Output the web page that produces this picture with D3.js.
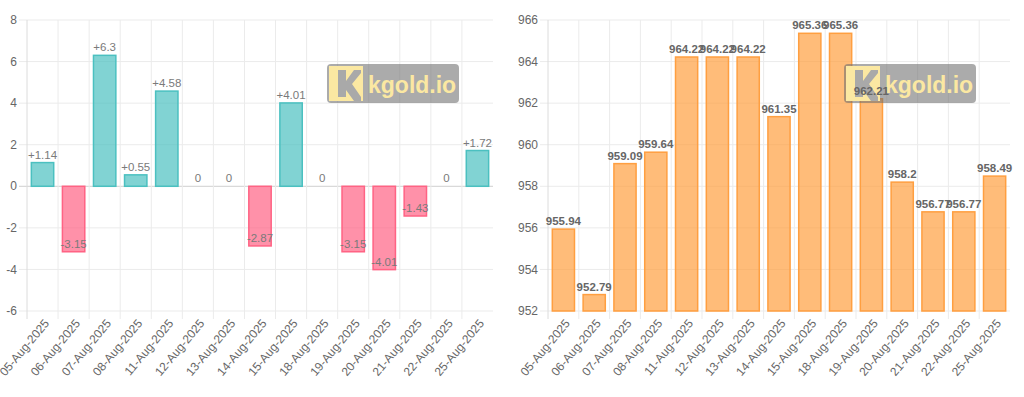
<!doctype html>
<html>
<head>
<meta charset="utf-8">
<title>Gold price change and price</title>
<style>
  body { margin: 0; background: #fff; }
  svg { display: block; font-family: "Liberation Sans", Arial, Helvetica, sans-serif; }
</style>
</head>
<body>
<div id="chart-area"></div>
<script src="https://cdn.jsdelivr.net/npm/d3@7/dist/d3.min.js"></script>
<script>
// Data
var dates = ["05-Aug-2025", "06-Aug-2025", "07-Aug-2025", "08-Aug-2025", "11-Aug-2025",
             "12-Aug-2025", "13-Aug-2025", "14-Aug-2025", "15-Aug-2025", "18-Aug-2025",
             "19-Aug-2025", "20-Aug-2025", "21-Aug-2025", "22-Aug-2025", "25-Aug-2025"];
var changes = [1.14, -3.15, 6.3, 0.55, 4.58, 0, 0, -2.87, 4.01, 0, -3.15, -4.01, -1.43, 0, 1.72];
var prices = [955.94, 952.79, 959.09, 959.64, 964.22, 964.22, 964.22, 961.35, 965.36, 965.36,
              962.21, 958.2, 956.77, 956.77, 958.49];
var changeTicks = [-6, -4, -2, 0, 2, 4, 6, 8];
var priceTicks = [952, 954, 956, 958, 960, 962, 964, 966];

var W = 1024, H = 397;
var svg = d3.select("#chart-area").append("svg").attr("width", W).attr("height", H);

function drawChart(opt) {
    var g = svg.append("g");
    var x = d3.scaleBand().domain(dates).range([opt.left, opt.right]).padding(0);
    var y = d3.scaleLinear().domain(opt.domain).range([311, 20]);
    var bw = x.bandwidth() * 0.72;
    var rows = opt.values.map(function(v, i){ return { date: dates[i], value: v }; });

    // horizontal grid
    g.selectAll(".hgrid").data(opt.ticks).enter().append("line")
        .attr("x1", opt.left - 8).attr("x2", opt.right)
        .attr("y1", function(d){ return y(d); }).attr("y2", function(d){ return y(d); })
        .attr("stroke", function(d){ return (opt.zero && d == 0) ? "#cfcfcf" : "#ebebeb"; })
        .attr("stroke-width", 1);

    // vertical grid (category boundaries)
    g.selectAll(".vgrid").data(dates).enter().append("line")
        .attr("x1", function(d){ return x(d); }).attr("x2", function(d){ return x(d); })
        .attr("y1", 20).attr("y2", 319)
        .attr("stroke", function(d, i){ return i == 0 ? "#dcdcdc" : "#ebebeb"; })
        .attr("stroke-width", 1);

    // y tick labels
    g.selectAll(".ylab").data(opt.ticks).enter().append("text")
        .attr("x", opt.left - 10).attr("y", function(d){ return y(d); })
        .attr("dy", "0.35em").attr("text-anchor", "end")
        .attr("font-size", "12px").attr("fill", "#666")
        .text(function(d){ return d; });

    // x tick labels
    g.selectAll(".xlab").data(dates).enter().append("text")
        .attr("transform", function(d){
            return "translate(" + (x(d) + x.bandwidth() / 2 + 4) + "," + 321 + ") rotate(-50)";
        })
        .attr("text-anchor", "end").attr("dy", "0.35em")
        .attr("font-size", "12px").attr("fill", "#666")
        .text(function(d){ return d; });

    // bars
    var base = opt.zero ? 0 : opt.domain[0];
    g.selectAll(".bar").data(rows.filter(function(d){ return d.value != base; })).enter().append("rect")
        .attr("x", function(d){ return x(d.date) + (x.bandwidth() - bw) / 2; })
        .attr("y", function(d){ return Math.min(y(d.value), y(base)); })
        .attr("width", bw)
        .attr("height", function(d){ return Math.abs(y(d.value) - y(base)); })
        .attr("fill", function(d){ return opt.fill(d.value); })
        .attr("stroke", function(d){ return opt.stroke(d.value); })
        .attr("stroke-width", 1.5);

    // watermark
    var wx = opt.right - 34 - 132, wy = 64;
    var wm = g.append("g").attr("transform", "translate(" + wx + "," + wy + ")");
    wm.append("rect").attr("width", 132).attr("height", 39).attr("rx", 4)
        .attr("fill", "rgba(110,110,110,0.58)");
    wm.append("rect").attr("x", 2).attr("y", 2).attr("width", 34).attr("height", 35)
        .attr("fill", "#fbe8a2");
    wm.append("path")
        .attr("d", "M11,6 L19,6 L19,17 L27,6 L34,6 L34,9 L25,20 L34,33 L34,37 L27,37 L19,26 L19,33 L11,33 Z")
        .attr("fill", "#a9a9a9");
    wm.append("text").attr("x", 41).attr("y", 29)
        .attr("font-size", "23px").attr("font-weight", "bold").attr("fill", "#fbe8a2")
        .text("kgold.io");

    // value labels
    g.selectAll(".vlab").data(rows).enter().append("text")
        .attr("x", function(d){ return x(d.date) + x.bandwidth() / 2; })
        .attr("y", function(d){ return y(d.value) - 4; })
        .attr("text-anchor", "middle")
        .attr("font-size", "11.5px")
        .attr("font-weight", opt.bold ? "bold" : "normal")
        .attr("fill", opt.labelColor)
        .text(function(d){ return opt.format(d.value); });
}

// Left: daily change
drawChart({
    left: 27, right: 493, domain: [-6, 8], ticks: changeTicks, values: changes, zero: true,
    fill: function(d){ return d >= 0 ? "rgba(75,192,192,0.7)" : "rgba(255,99,132,0.7)"; },
    stroke: function(d){ return d >= 0 ? "rgb(75,192,192)" : "rgb(255,99,132)"; },
    labelColor: "#7a7a7a", bold: false,
    format: function(d){ return d > 0 ? "+" + d : "" + d; }
});

// Right: price
drawChart({
    left: 548, right: 1010, domain: [952, 966], ticks: priceTicks, values: prices, zero: false,
    fill: function(){ return "rgba(255,159,64,0.7)"; },
    stroke: function(){ return "rgb(255,159,64)"; },
    labelColor: "#666", bold: true,
    format: function(d){ return "" + d; }
});
</script>
</body>
</html>
